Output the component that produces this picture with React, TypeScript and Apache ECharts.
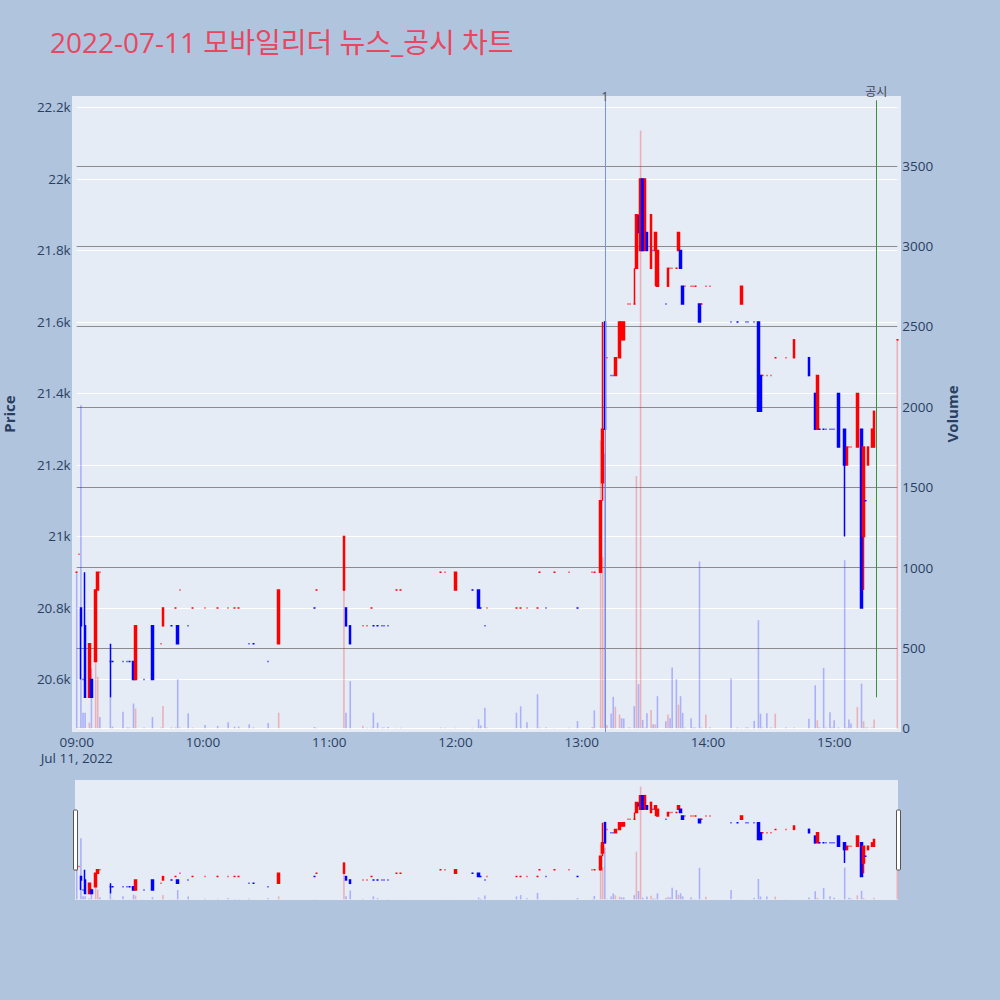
import React, { useEffect, useRef } from 'react';
import * as echarts from 'echarts';

const TITLE = '2022-07-11 모바일리더 뉴스_공시 차트';
const DATE_TEXT = 'Jul 11, 2022';
const SESSION_START = '09:00';
const SESSION_END = '15:30';

// minute candles (only minutes with trades)
const times = [
  '09:00', '09:01', '09:02', '09:03', '09:04', '09:06', '09:07', '09:09', '09:10', '09:11',
  '09:16', '09:17', '09:22', '09:24', '09:25', '09:27', '09:28', '09:32', '09:36', '09:40', '09:41', '09:45', '09:47', '09:48', '09:49',
  '09:53', '09:55', '10:01', '10:07', '10:12', '10:15', '10:17', '10:22', '10:24', '10:31', '10:36', '10:53', '10:54',
  '11:07', '11:08', '11:10', '11:16', '11:18', '11:20', '11:21', '11:23', '11:25', '11:26', '11:28', '11:32', '11:34', '11:53', '11:55',
  '12:00', '12:08', '12:11', '12:12', '12:14', '12:15', '12:29', '12:31', '12:34', '12:39', '12:40', '12:43', '12:47', '12:54', '12:58',
  '13:05', '13:06', '13:09', '13:10', '13:11', '13:12', '13:14', '13:15', '13:16', '13:18', '13:19', '13:20',
  '13:22', '13:23', '13:25', '13:26', '13:27', '13:28', '13:29', '13:30', '13:31', '13:33', '13:34', '13:35', '13:36',
  '13:40', '13:41', '13:42', '13:43', '13:45', '13:46', '13:47', '13:48', '13:49', '13:52', '13:53', '13:54', '13:56', '13:57', '13:59',
  '14:01', '14:11', '14:14', '14:16', '14:18', '14:19', '14:22', '14:24', '14:25', '14:26', '14:28', '14:30', '14:32', '14:37', '14:41',
  '14:48', '14:51', '14:52', '14:53', '14:55', '14:56', '14:58', '14:59', '15:00',
  '15:02', '15:05', '15:06', '15:07', '15:08', '15:11', '15:13', '15:14', '15:15', '15:16', '15:18', '15:19', '15:30',
];

const opens = [
  20900, 20950, 20800, 20600, 20750, 20550, 20600, 20650, 20850, 20900,
  20650, 20650, 20650, 20650, 20650, 20650, 20600, 20600, 20750, 20700, 20750, 20750, 20800, 20750, 20850,
  20750, 20800, 20800, 20800, 20800, 20800, 20800, 20700, 20700, 20650, 20700, 20800, 20850,
  20850, 20800, 20750, 20750, 20750, 20800, 20750, 20750, 20750, 20750, 20750, 20850, 20850, 20900, 20900,
  20850, 20850, 20850, 20800, 20750, 20800, 20800, 20800, 20800, 20800, 20900, 20800, 20900, 20900, 20800,
  20900, 20900, 20900, 21150, 21600, 21500, 21450, 21450, 21450, 21500, 21550, 21550,
  21650, 21650, 21650, 21750, 21850, 21800, 22000, 21800, 21850, 21750, 21800, 21800, 21700,
  21650, 21700, 21750, 21750, 21750, 21800, 21800, 21700, 21700, 21700, 21700, 21700, 21650, 21650, 21700,
  21700, 21600, 21600, 21650, 21600, 21600, 21600, 21600, 21450, 21450, 21450, 21450, 21500, 21500, 21500,
  21500, 21400, 21300, 21300, 21300, 21300, 21300, 21300, 21300,
  21400, 21300, 21200, 21250, 21250, 21250, 21300, 21000, 21100, 21200, 21250, 21250, 21550,
];

const closes = [
  20900, 20950, 20750, 20600, 20550, 20700, 20550, 20850, 20900, 20900,
  20650, 20650, 20650, 20650, 20650, 20600, 20750, 20600, 20600, 20700, 20800, 20750, 20800, 20700, 20850,
  20750, 20800, 20800, 20800, 20800, 20800, 20800, 20700, 20700, 20650, 20850, 20800, 20850,
  21000, 20750, 20700, 20750, 20750, 20800, 20750, 20750, 20750, 20750, 20750, 20850, 20850, 20900, 20900,
  20900, 20850, 20800, 20800, 20750, 20800, 20800, 20800, 20800, 20800, 20900, 20800, 20900, 20900, 20800,
  20900, 20900, 21100, 21300, 21300, 21500, 21450, 21450, 21500, 21600, 21600, 21600,
  21650, 21650, 21650, 21900, 21850, 22000, 21800, 22000, 21800, 21900, 21800, 21850, 21800,
  21650, 21750, 21750, 21750, 21750, 21850, 21750, 21650, 21700, 21700, 21700, 21700, 21600, 21650, 21700,
  21700, 21600, 21600, 21700, 21600, 21600, 21600, 21350, 21350, 21450, 21450, 21450, 21500, 21500, 21550,
  21450, 21300, 21450, 21300, 21300, 21300, 21300, 21300, 21300,
  21250, 21200, 21250, 21250, 21250, 21400, 20800, 21250, 21100, 21250, 21300, 21350, 21550,
];

const lows = [
  20900, 20950, 20600, 20600, 20550, 20550, 20550, 20650, 20850, 20900,
  20550, 20650, 20650, 20650, 20650, 20600, 20600, 20600, 20600, 20700, 20750, 20750, 20800, 20700, 20850,
  20750, 20800, 20800, 20800, 20800, 20800, 20800, 20700, 20700, 20650, 20700, 20800, 20850,
  20850, 20750, 20700, 20750, 20750, 20800, 20750, 20750, 20750, 20750, 20750, 20850, 20850, 20900, 20900,
  20850, 20850, 20800, 20800, 20750, 20800, 20800, 20800, 20800, 20800, 20900, 20800, 20900, 20900, 20800,
  20900, 20900, 20900, 21100, 21300, 21500, 21450, 21450, 21450, 21500, 21550, 21550,
  21650, 21650, 21650, 21750, 21850, 21800, 21800, 21800, 21800, 21750, 21800, 21700, 21700,
  21650, 21700, 21750, 21750, 21750, 21800, 21750, 21650, 21700, 21700, 21700, 21700, 21600, 21650, 21700,
  21700, 21600, 21600, 21650, 21600, 21600, 21600, 21350, 21350, 21450, 21450, 21450, 21500, 21500, 21500,
  21450, 21300, 21300, 21300, 21300, 21300, 21300, 21300, 21300,
  21250, 21000, 21200, 21250, 21250, 21250, 20800, 20850, 21100, 21200, 21250, 21250, 21550,
];

const highs = [
  20900, 20950, 20800, 20600, 20900, 20700, 20600, 20850, 20900, 20900,
  20700, 20650, 20650, 20650, 20650, 20650, 20750, 20600, 20750, 20700, 20800, 20750, 20800, 20750, 20850,
  20750, 20800, 20800, 20800, 20800, 20800, 20800, 20700, 20700, 20650, 20850, 20800, 20850,
  21000, 20800, 20750, 20750, 20750, 20800, 20750, 20750, 20750, 20750, 20750, 20850, 20850, 20900, 20900,
  20900, 20850, 20850, 20800, 20750, 20800, 20800, 20800, 20800, 20800, 20900, 20800, 20900, 20900, 20800,
  20900, 20900, 21100, 21600, 21600, 21500, 21450, 21450, 21500, 21600, 21600, 21600,
  21650, 21650, 21750, 21900, 21900, 22000, 22000, 22000, 21850, 21900, 21800, 21850, 21800,
  21650, 21750, 21750, 21750, 21750, 21850, 21800, 21700, 21700, 21700, 21700, 21700, 21650, 21650, 21700,
  21700, 21600, 21600, 21700, 21600, 21600, 21600, 21600, 21450, 21450, 21450, 21450, 21500, 21500, 21550,
  21500, 21400, 21450, 21300, 21300, 21300, 21300, 21300, 21300,
  21400, 21300, 21250, 21250, 21250, 21400, 21300, 21250, 21100, 21250, 21300, 21350, 21550,
];

const volumes = [
  965, 5, 2010, 97, 97, 35, 373, 420, 320, 70,
  195, 10, 103, 5, 5, 154, 123, 5, 70, 5, 139, 5, 5, 305, 5,
  93, 5, 20, 15, 37, 10, 10, 25, 5, 33, 97, 8, 3,
  1000, 97, 294, 16, 4, 4, 97, 35, 4, 5, 8, 3, 3, 5, 3,
  3, 3, 56, 18, 128, 5, 97, 137, 38, 212, 5, 5, 3, 3, 45,
  8, 112, 1790, 1065, 1710, 20, 92, 196, 134, 86, 62, 61,
  5, 5, 138, 1570, 274, 3720, 52, 5, 93, 114, 25, 25, 200,
  44, 86, 62, 378, 306, 147, 200, 96, 5, 62, 5, 5, 1038, 5, 86,
  5, 310, 5, 3, 5, 5, 46, 672, 91, 5, 94, 5, 91, 5, 5,
  60, 268, 50, 5, 376, 5, 100, 5, 50,
  5, 1046, 5, 54, 30, 133, 278, 44, 5, 5, 5, 54, 2420,
];

// vertical event markers
const eventTimes = ['13:11', '15:20'];
const eventLabels = ['1', '공시'];

// axis ranges (as in the reference)
const PRICE_MIN = 20453;
const PRICE_MAX = 22232;
const VOL_MIN = -23;
const VOL_MAX = 3934;
const EVENT_TOP = 22220;
const EVENT_BOTTOMS = [PRICE_MIN, 20550];

const FONT = '"Open Sans", "Noto Sans CJK KR", sans-serif';
const TEXT_COLOR = '#2a3f5f';
const TICK_SIZE = 13.5;
const UP = '#ff0000';
const DOWN = '#0000ff';
const UP_VOL = 'rgba(255,0,0,0.25)';
const DOWN_VOL = 'rgba(0,0,255,0.25)';
const EVENT_COLORS = ['#7393ea', '#3b8e3b'];
const EVENT_LABEL_DIST = [-2, 3];

const absMin = (t: string) => {
  const [h, m] = t.split(':').map(Number);
  return h * 60 + m;
};
const toMin = (t: string) => absMin(t) - absMin(SESSION_START);
const fmtTime = (v: number) => {
  const a = absMin(SESSION_START) + v;
  const h = Math.floor(a / 60);
  const m = a % 60;
  return `${String(h).padStart(2, '0')}:${String(m).padStart(2, '0')}`;
};

function buildOption() {
  let inc = true;
  let prev: number | null = null;
  const candleColors = closes.map((c, i) => {
    const o = opens[i];
    if (c > o) inc = true;
    else if (c < o) inc = false;
    else if (prev !== null && c !== prev) inc = c > prev;
    prev = c;
    return inc ? UP : DOWN;
  });
  const volColors = closes.map((c, i) => (i > 0 && c > closes[i - 1] ? UP_VOL : DOWN_VOL));

  const candleData = times.map((t, i) => ({
    value: [toMin(t), opens[i], closes[i], lows[i], highs[i]],
    itemStyle: {
      color: candleColors[i],
      color0: candleColors[i],
      borderColor: candleColors[i],
      borderColor0: candleColors[i],
      borderColorDoji: candleColors[i],
    },
  }));
  const volData = times.map((t, i) => ({
    value: [toMin(t), volumes[i]],
    itemStyle: { color: volColors[i] },
  }));

  const xMax = toMin(SESSION_END);

  const markLine = {
    silent: true,
    symbol: ['none', 'none'],
    animation: false,
    data: eventTimes.map((t, i) => [
      {
        coord: [toMin(t), EVENT_BOTTOMS[i]],
        lineStyle: { color: EVENT_COLORS[i], width: 1, type: 'solid' },
        label: {
          show: true,
          position: 'end',
          formatter: eventLabels[i],
          color: '#444',
          fontSize: 12,
          fontFamily: FONT,
          distance: EVENT_LABEL_DIST[i],
        },
      },
      { coord: [toMin(t), EVENT_TOP] },
    ]),
  };

  const volSplitColors = ['#ffffff', '#8c8c8c', '#8c8c8c', '#8c8c8c', '#8c8c8c', '#8c8c8c', '#8c8c8c', '#8c8c8c'];

  const tickLabel = { color: TEXT_COLOR, fontSize: TICK_SIZE, fontFamily: FONT };

  return {
    animation: false,
    backgroundColor: '#b0c4de',
    textStyle: { fontFamily: FONT },
    title: {
      text: TITLE,
      left: 45,
      top: 23,
      textStyle: { color: '#e8475f', fontSize: 28, fontWeight: 'normal', fontFamily: FONT },
    },
    graphic: [
      { type: 'rect', z: -10, silent: true, shape: { x: 72, y: 96, width: 829, height: 636 }, style: { fill: '#e5ecf6' } },
      { type: 'rect', z: -10, silent: true, shape: { x: 75, y: 780, width: 823, height: 120 }, style: { fill: '#e5ecf6' } },
      { type: 'rect', z: 10, silent: true, shape: { x: 73.5, y: 810, width: 4, height: 60, r: 1 }, style: { fill: '#ffffff', stroke: '#555', lineWidth: 1 } },
      { type: 'rect', z: 10, silent: true, shape: { x: 896.5, y: 810, width: 4, height: 60, r: 1 }, style: { fill: '#ffffff', stroke: '#555', lineWidth: 1 } },
    ],
    grid: [
      { left: 76.7, right: 102.7, top: 96, height: 636, containLabel: false, outerBoundsMode: 'none' },
      { left: 76.7, right: 102.7, top: 780, height: 120, containLabel: false, outerBoundsMode: 'none' },
    ],
    xAxis: [
      {
        type: 'value',
        gridIndex: 0,
        min: 0,
        max: xMax,
        interval: 60,
        axisLine: { show: false },
        axisTick: { show: false },
        splitLine: { show: false },
        axisLabel: {
          ...tickLabel,
          margin: 2,
          lineHeight: 16,
          showMaxLabel: false,
          formatter: (v: number) => (v === 0 ? `${fmtTime(v)}\n${DATE_TEXT}` : fmtTime(v)),
        },
      },
      { type: 'value', gridIndex: 1, min: 0, max: xMax, show: false, splitLine: { show: false } },
    ],
    yAxis: [
      {
        type: 'value',
        gridIndex: 0,
        position: 'left',
        min: PRICE_MIN,
        max: PRICE_MAX,
        splitNumber: 9,
        axisLine: { show: false },
        axisTick: { show: false },
        axisLabel: {
          ...tickLabel,
          margin: 6,
          showMinLabel: false,
          showMaxLabel: false,
          formatter: (v: number) => `${parseFloat((v / 1000).toFixed(1))}k`,
        },
        splitLine: { show: true, showMinLine: false, showMaxLine: false, lineStyle: { color: '#ffffff', width: 1 } },
        name: 'Price',
        nameLocation: 'middle',
        nameRotate: 90,
        nameGap: 60,
        nameTextStyle: { color: TEXT_COLOR, fontSize: 15, fontWeight: 'bold', fontFamily: FONT },
      },
      {
        type: 'value',
        gridIndex: 0,
        position: 'right',
        min: VOL_MIN,
        max: VOL_MAX,
        splitNumber: 8,
        axisLine: { show: false },
        axisTick: { show: false },
        axisLabel: {
          ...tickLabel,
          margin: 5,
          showMinLabel: false,
          showMaxLabel: false,
          formatter: (v: number) => String(v),
        },
        splitLine: { show: true, showMinLine: false, showMaxLine: false, lineStyle: { color: volSplitColors, width: 1 } },
        name: 'Volume',
        nameLocation: 'middle',
        nameRotate: 90,
        nameGap: 47,
        nameTextStyle: { color: TEXT_COLOR, fontSize: 15, fontWeight: 'bold', fontFamily: FONT },
      },
      { type: 'value', gridIndex: 1, min: PRICE_MIN, max: PRICE_MAX, show: false, splitLine: { show: false } },
      { type: 'value', gridIndex: 1, min: VOL_MIN, max: VOL_MAX, show: false, splitLine: { show: false } },
    ],
    series: [
      {
        type: 'bar',
        name: 'Volume',
        xAxisIndex: 0,
        yAxisIndex: 1,
        data: volData,
        barWidth: 1.6,
        clip: false,
        silent: true,
        z: 1,
      },
      {
        type: 'candlestick',
        name: 'Price',
        xAxisIndex: 0,
        yAxisIndex: 0,
        data: candleData,
        barWidth: 2,
        clip: false,
        silent: true,
        itemStyle: { borderWidth: 1.5 },
        z: 3,
        markLine,
      },
      {
        type: 'bar',
        xAxisIndex: 1,
        yAxisIndex: 3,
        data: volData,
        barWidth: 1.6,
        clip: false,
        silent: true,
        z: 1,
      },
      {
        type: 'candlestick',
        xAxisIndex: 1,
        yAxisIndex: 2,
        data: candleData,
        barWidth: 2,
        clip: false,
        silent: true,
        itemStyle: { borderWidth: 1.5 },
        z: 3,
      },
    ],
  };
}

export default function App() {
  const ref = useRef<HTMLDivElement>(null);
  useEffect(() => {
    if (!ref.current) return;
    const chart = echarts.init(ref.current, null, { renderer: 'svg' });
    chart.setOption(buildOption() as any);
    return () => chart.dispose();
  }, []);
  return <div ref={ref} style={{ position: 'fixed', left: 0, top: 0, width: 1000, height: 1000 }} />;
}
